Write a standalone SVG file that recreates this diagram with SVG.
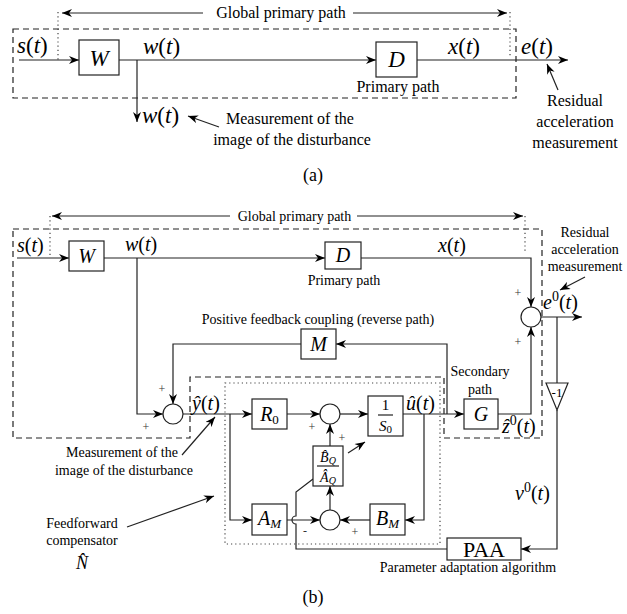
<svg xmlns="http://www.w3.org/2000/svg" width="627" height="614" viewBox="0 0 627 614">
<style>
text{font-family:"Liberation Serif","Times New Roman",serif;fill:#000}
.m{font-style:italic}
.u{font-style:normal}
.da{font-size:16px}
.db{font-size:14px}
.ma{font-size:23px}
.mb{font-size:20px}
.sg{font-size:12px;fill:#333}
.box{fill:#fff;stroke:#222;stroke-width:1.2}
.ln{fill:none;stroke:#222;stroke-width:1.2}
.ar{fill:none;stroke:#222;stroke-width:1.2;marker-end:url(#ah)}
.dash{fill:none;stroke:#222;stroke-width:1.2;stroke-dasharray:6,4}
.dot{fill:none;stroke:#444;stroke-width:1.2;stroke-dasharray:1.2,3}
</style>
<defs>
<marker id="ah" viewBox="0 0 10 8" refX="10" refY="4" markerWidth="11" markerHeight="8" orient="auto" markerUnits="userSpaceOnUse"><path d="M0,0 L10,4 L0,8 L3,4 z" fill="#000"/></marker>
</defs>
<rect width="627" height="614" fill="#fff"/>

<!-- ============ (a) ============ -->
<g id="frames-a">
<rect class="dash" x="13" y="29" width="503" height="69"/>
<line class="dot" x1="58" y1="12" x2="58" y2="60"/>
<line class="dot" x1="510" y1="12" x2="510" y2="58"/>
</g>
<g id="connectors-a">
<line class="ar" x1="203" y1="13" x2="62" y2="13"/>
<line class="ar" x1="353" y1="13" x2="507" y2="13"/>
<line class="ar" x1="19" y1="60" x2="79" y2="60"/>
<line class="ar" x1="119" y1="60" x2="376" y2="60"/>
<line class="ar" x1="137" y1="60" x2="137" y2="122"/>
<line class="ar" x1="417" y1="60" x2="568" y2="60"/>
<line class="ar" x1="219" y1="127" x2="188" y2="116"/>
<line class="ar" x1="558" y1="90" x2="547" y2="64"/>
</g>
<g id="a-W"><rect class="box" x="79" y="40" width="40" height="35"/><text class="m ma" x="99" y="66" text-anchor="middle">W</text></g>
<g id="a-D"><rect class="box" x="376" y="42" width="41" height="35"/><text class="m ma" x="396.5" y="67" text-anchor="middle">D</text>
<text class="da" x="398" y="92" text-anchor="middle">Primary path</text></g>
<g id="a-labels">
<text class="da" x="281" y="18" text-anchor="middle">Global primary path</text>
<text class="ma" x="17" y="53"><tspan class="m">s</tspan>(<tspan class="m">t</tspan>)</text>
<text class="ma" x="143" y="54"><tspan class="m">w</tspan>(<tspan class="m">t</tspan>)</text>
<text class="ma" x="142" y="123"><tspan class="m">w</tspan>(<tspan class="m">t</tspan>)</text>
<text class="ma" x="448" y="54"><tspan class="m">x</tspan>(<tspan class="m">t</tspan>)</text>
<text class="ma" x="521" y="54"><tspan class="m">e</tspan>(<tspan class="m">t</tspan>)</text>
<text class="da" x="290" y="124" text-anchor="middle">Measurement of the</text>
<text class="da" x="292" y="145" text-anchor="middle">image of the disturbance</text>
<text class="da" x="575" y="106" text-anchor="middle">Residual</text>
<text class="da" x="575" y="127" text-anchor="middle">acceleration</text>
<text class="da" x="575" y="148" text-anchor="middle">measurement</text>
<text x="313" y="181" text-anchor="middle" font-size="18">(a)</text>
</g>

<!-- ============ (b) ============ -->
<g id="frames-b">
<path class="dash" d="M13,229 H542 V438 H444 V377 H190 V438 H13 Z"/>
<rect class="dot" x="225" y="383" width="215" height="161"/>
<line class="dot" x1="50" y1="216" x2="50" y2="256"/>
<line class="dot" x1="525" y1="216" x2="525" y2="253"/>
</g>
<g id="connectors-b">
<line class="ar" x1="230" y1="216" x2="52" y2="216"/>
<line class="ar" x1="357" y1="216" x2="523" y2="216"/>
<line class="ar" x1="17" y1="258" x2="69" y2="258"/>
<line class="ar" x1="104" y1="258" x2="325" y2="258"/>
<polyline class="ar" points="361,258 531,258 531,307"/>
<polyline class="ar" points="498,414 531,414 531,327"/>
<line class="ar" x1="541" y1="317" x2="582" y2="317"/>
<line class="ln" x1="557" y1="317" x2="557" y2="383"/>
<polyline class="ar" points="557,410 557,549 521,549"/>
<path class="ln" d="M447,549 H296 V524 A4,4 0 0,1 296,516 V492 L313,479"/>
<polyline class="ar" points="137,258 137,414 163,414"/>
<polyline class="ar" points="301,344 173,344 173,404"/>
<polyline class="ar" points="447,414 447,344 336,344"/>
<line class="ar" x1="183" y1="414" x2="252" y2="414"/>
<polyline class="ar" points="230,414 230,520 252,520"/>
<line class="ar" x1="287" y1="414" x2="320" y2="414"/>
<line class="ar" x1="340" y1="414" x2="368" y2="414"/>
<line class="ar" x1="403" y1="414" x2="464" y2="414"/>
<polyline class="ar" points="424,414 424,520 405,520"/>
<line class="ar" x1="330" y1="446" x2="330" y2="424"/>
<line class="ar" x1="330" y1="510" x2="330" y2="486"/>
<line class="ar" x1="287" y1="520" x2="320" y2="520"/>
<line class="ar" x1="370" y1="520" x2="340" y2="520"/>
<line class="ar" x1="348" y1="453" x2="365" y2="442"/>
<line class="ar" x1="585" y1="277" x2="560" y2="290"/>
<line class="ar" x1="182" y1="455" x2="215" y2="417"/>
<line class="ar" x1="127" y1="527" x2="214" y2="496"/>
</g>
<g id="b-W"><rect class="box" x="69" y="241" width="35" height="30"/><text class="m mb" x="86.5" y="263" text-anchor="middle">W</text></g>
<g id="b-D"><rect class="box" x="325" y="242" width="36" height="27"/><text class="m mb" x="343" y="262" text-anchor="middle">D</text>
<text class="db" x="344" y="285" text-anchor="middle">Primary path</text></g>
<g id="b-M"><rect class="box" x="301" y="329" width="35" height="30"/><text class="m mb" x="318.5" y="351" text-anchor="middle">M</text></g>
<g id="b-sum1"><circle class="box" cx="173" cy="414" r="10"/><text class="sg" x="162" y="393" text-anchor="middle">+</text><text class="sg" x="146" y="431" text-anchor="middle">+</text></g>
<g id="b-R0"><rect class="box" x="252" y="399" width="35" height="30"/><text class="mb" x="269.5" y="421" text-anchor="middle"><tspan class="m">R</tspan><tspan font-size="13" dy="3">0</tspan></text></g>
<g id="b-sum3"><circle class="box" cx="330" cy="414" r="10"/><text class="sg" x="312" y="431" text-anchor="middle">+</text><text class="sg" x="342" y="442" text-anchor="middle">+</text></g>
<g id="b-S0"><rect class="box" x="368" y="396" width="35" height="40"/>
<text x="385.5" y="410" text-anchor="middle" font-size="15">1</text>
<line class="ln" x1="378" y1="415" x2="393" y2="415"/>
<text x="385.5" y="431" text-anchor="middle" font-size="15"><tspan class="m">S</tspan><tspan font-size="11" dy="2">0</tspan></text></g>
<g id="b-G"><rect class="box" x="464" y="399" width="34" height="30"/><text class="m mb" x="481" y="421" text-anchor="middle">G</text>
<text class="db" x="480" y="376" text-anchor="middle">Secondary</text>
<text class="db" x="480" y="394" text-anchor="middle">path</text></g>
<g id="b-sum2"><circle class="box" cx="531" cy="317" r="10"/><text class="sg" x="518" y="297" text-anchor="middle">+</text><text class="sg" x="518" y="346" text-anchor="middle">+</text></g>
<g id="b-Q"><rect class="box" x="313" y="446" width="30" height="40"/>
<text x="328" y="462" text-anchor="middle" font-size="14"><tspan class="m">B̂</tspan><tspan class="m" font-size="10" dy="2">Q</tspan></text>
<line class="ln" x1="317" y1="466" x2="339" y2="466"/>
<text x="328" y="482" text-anchor="middle" font-size="14"><tspan class="m">Â</tspan><tspan class="m" font-size="10" dy="2">Q</tspan></text></g>
<g id="b-sum4"><circle class="box" cx="330" cy="520" r="10"/><text class="sg" x="305" y="535" text-anchor="middle">-</text><text class="sg" x="355" y="536" text-anchor="middle">+</text></g>
<g id="b-AM"><rect class="box" x="252" y="504" width="35" height="31"/><text class="mb" x="269.5" y="525" text-anchor="middle"><tspan class="m">A</tspan><tspan class="m" font-size="13" dy="3">M</tspan></text></g>
<g id="b-BM"><rect class="box" x="370" y="504" width="35" height="31"/><text class="mb" x="387.5" y="525" text-anchor="middle"><tspan class="m">B</tspan><tspan class="m" font-size="13" dy="3">M</tspan></text></g>
<g id="b-inv"><polygon class="box" points="546,383 568,383 557,410"/><text x="557" y="397" text-anchor="middle" font-size="13">-1</text></g>
<g id="b-PAA"><rect class="box" x="447" y="538" width="74" height="22"/><text x="484" y="557" text-anchor="middle" font-size="22">PAA</text>
<text class="db" x="468" y="572" text-anchor="middle">Parameter adaptation algorithm</text></g>
<g id="b-labels">
<text class="db" x="294.5" y="221" text-anchor="middle">Global primary path</text>
<text class="mb" x="17" y="252"><tspan class="m">s</tspan>(<tspan class="m">t</tspan>)</text>
<text class="mb" x="125" y="251"><tspan class="m">w</tspan>(<tspan class="m">t</tspan>)</text>
<text class="mb" x="438" y="252"><tspan class="m">x</tspan>(<tspan class="m">t</tspan>)</text>
<text class="mb" x="543" y="309"><tspan class="m">e</tspan><tspan font-size="14" dy="-8">0</tspan><tspan dy="8">(</tspan><tspan class="m">t</tspan>)</text>
<text class="db" x="585" y="237" text-anchor="middle">Residual</text>
<text class="db" x="585" y="254" text-anchor="middle">acceleration</text>
<text class="db" x="585" y="271" text-anchor="middle">measurement</text>
<text class="db" x="318" y="324" text-anchor="middle">Positive feedback coupling (reverse path)</text>
<text class="mb" x="192" y="410"><tspan class="m">ŷ</tspan>(<tspan class="m">t</tspan>)</text>
<text class="mb" x="406" y="410"><tspan class="m">û</tspan>(<tspan class="m">t</tspan>)</text>
<text class="mb" x="502" y="433"><tspan class="m">ẑ</tspan><tspan font-size="14" dy="-8">0</tspan><tspan dy="8">(</tspan><tspan class="m">t</tspan>)</text>
<text class="mb" x="515" y="500"><tspan class="m">ν</tspan><tspan font-size="14" dy="-8">0</tspan><tspan dy="8">(</tspan><tspan class="m">t</tspan>)</text>
<text class="db" x="122" y="457" text-anchor="middle">Measurement of the</text>
<text class="db" x="124" y="475" text-anchor="middle">image of the disturbance</text>
<text class="db" x="82" y="528" text-anchor="middle">Feedforward</text>
<text class="db" x="82" y="545" text-anchor="middle">compensator</text>
<text class="m" x="82" y="569" text-anchor="middle" font-size="18">N̂</text>
<text x="313" y="603" text-anchor="middle" font-size="18">(b)</text>
</g>
</svg>
